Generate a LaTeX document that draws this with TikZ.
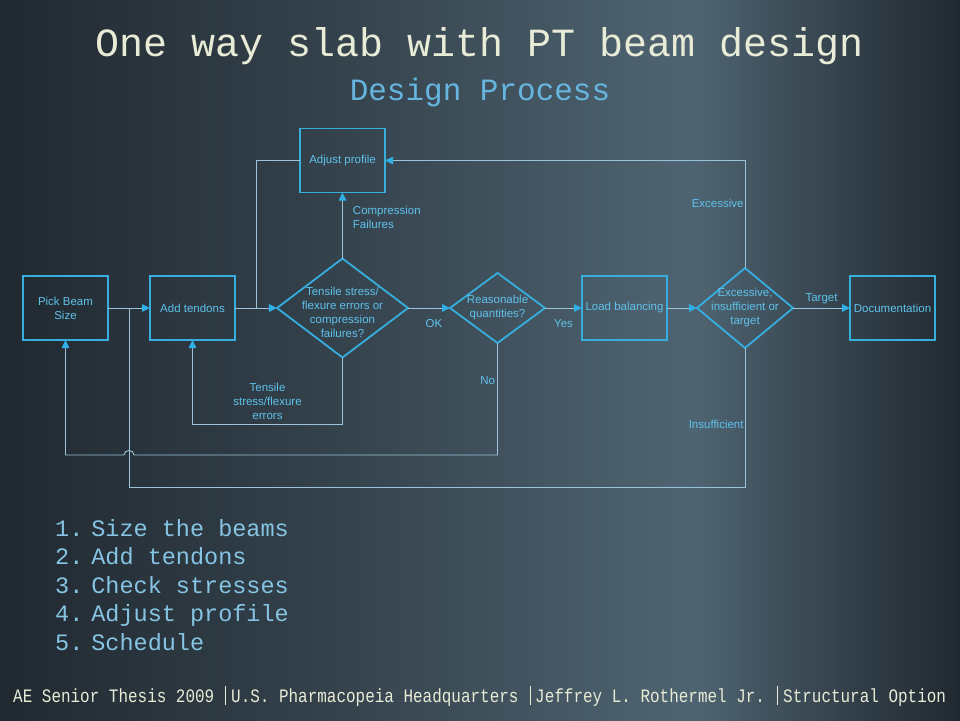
\documentclass[tikz,border=0pt]{standalone}
\usepackage{fontspec}
\setmainfont{Liberation Sans}
\newfontfamily\slidemono{Liberation Mono}
\newfontfamily\slidefoot[FakeStretch=0.84]{Liberation Mono}
\usetikzlibrary{positioning, arrows.meta, shapes.geometric, calc}

\definecolor{bgdark}{HTML}{212930}
\definecolor{bgmid}{HTML}{35434D}
\definecolor{bglight}{HTML}{4F6472}
\definecolor{edgec}{HTML}{36AEDE}
\definecolor{inkc}{HTML}{5FC2EC}
\definecolor{wirec}{HTML}{9CC3D8}
\definecolor{tipc}{HTML}{2FB0E6}
\definecolor{titlec}{HTML}{E8ECD6}
\definecolor{subc}{HTML}{66B6E0}
\definecolor{listc}{HTML}{86C4E4}

% the picture box is mapped onto 25bp--75bp of the shading
\pgfdeclarehorizontalshading{slide}{100bp}{color(0bp)=(bgdark); color(25bp)=(bgdark);
  color(43bp)=(bgmid); color(61bp)=(bglight); color(68.5bp)=(bgmid);
  color(75bp)=(bgdark); color(100bp)=(bgdark)}

\newcommand\chartfont{\fontsize{11.5}{14}\selectfont}
\newcommand\headfont{\slidemono\fontsize{40}{45}\selectfont}
\newcommand\subheadfont{\slidemono\fontsize{31}{35}\selectfont}
\newcommand\stepsfont{\slidemono\fontsize{23.5}{28.5}\selectfont}
\newcommand\footerfont{\slidefoot\fontsize{19}{22}\selectfont}

\begin{document}
\begin{tikzpicture}[x=1pt, y=-1pt, >={Triangle[length=8pt, width=7.5pt, color=tipc]},
  node distance=42pt,
  box/.style={draw=edgec, line width=1.8pt, minimum width=85pt, minimum height=64pt,
    inner sep=2pt, outer sep=0pt, align=center, text=inkc, font=\chartfont},
  dec/.style={diamond, draw=edgec, line width=1.8pt, inner sep=0pt, outer sep=0pt},
  wire/.style={draw=wirec, line width=0.9pt},
  tag/.style={text=inkc, font=\chartfont, align=center, inner sep=1pt},
  foot/.style={text=titlec, font=\footerfont, inner sep=0pt, anchor=base west}]

% background
\shade[shading=slide] (0,0) rectangle (960,720);

% headings
\node[anchor=base, text=titlec, font=\headfont] (title) at (480,56) {One way slab with PT beam design};
\node[anchor=base, text=subc, font=\subheadfont] (sub) at (480,100) {Design Process};

% process
\node[box] (pick) at (65.5,308) {Pick Beam\\Size};
\node[box, right=of pick] (add) {Add tendons};
\node[dec, minimum width=131pt, minimum height=99pt, right=of add,
  label={[tag, yshift=-4pt]center:Tensile stress/\\flexure errors or\\compression\\failures?}] (chk) {};
\node[dec, minimum width=95pt, minimum height=70pt, right=of chk,
  label={[tag]center:Reasonable\\quantities?}] (reas) {};
\node[box, right=37pt of reas] (load) {Load balancing};
\node[dec, minimum width=96pt, minimum height=80pt, right=30pt of load,
  label={[tag]center:Excessive,\\insufficient or\\target}] (ver) {};
\node[box, right=57pt of ver] (doc) {Documentation};
\node[box, above=66pt of chk] (adj) {Adjust profile};

\coordinate (jn) at ($(pick.east)!.5!(add.west)$);
\coordinate (jt) at ($(add.east)!.5!(chk.west)$);
\coordinate (tensY) at (0,424);
\coordinate (noY) at (0,455);
\coordinate (insY) at (0,487);

\draw[wire] (pick) -- (jn);
\draw[wire,->] (jn) -- (add);
\draw[wire] (add) -- (jt);
\draw[wire,->] (jt) -- (chk);
\draw[wire,->] (chk) -- node[tag, below=10pt, pos=.62] (ok) {OK} (reas);
\draw[wire,->] (reas) -- node[tag, below=10pt] (yes) {Yes} (load);
\draw[wire,->] (load) -- (ver);
\draw[wire,->] (ver) -- node[tag, above=3pt] (tgt) {Target} (doc);
\draw[wire,->] (chk) -- node[tag, right=9pt, pos=.62, align=left] (comp) {Compression\\Failures} (adj);
\draw[wire] (adj.west) -| (jt);
\draw[wire,->] (ver.north) |- node[tag, pos=.3, anchor=east] (exc) {Excessive} (adj.east);

% loops back
\draw[wire,->] (chk.south) -- (chk.south |- tensY)
  -- node[tag, above=3pt] (tens) {Tensile\\stress/flexure\\errors} (add.south |- tensY) -- (add.south);
\draw[wire,->] (reas.south) -- node[tag, left=1pt, pos=.34] (no) {No} (reas.south |- noY)
  -- ($(jn |- noY)+(5,0)$) .. controls +(0,-6) and +(0,-6) .. ($(jn |- noY)+(-5,0)$)
  -- (pick.south |- noY) -- (pick.south);
\draw[wire] (ver.south) -- node[tag, pos=.55, anchor=east] (ins) {Insufficient} (ver.south |- insY)
  -- (jn |- insY) -- (jn);

% steps
\node[anchor=north west, text=listc, font=\stepsfont, inner sep=0pt] (steps) at (55,516) {%
  \begin{tabular}{@{}l@{\hspace{8pt}}l@{}}
    1.&Size the beams\\
    2.&Add tendons\\
    3.&Check stresses\\
    4.&Adjust profile\\
    5.&Schedule
  \end{tabular}};

% footer
\node[foot] (ae) at (13,702) {AE Senior Thesis 2009};
\node[foot] (usp) at (231,702) {U.S. Pharmacopeia Headquarters};
\node[foot] (jlr) at (535,702) {Jeffrey L. Rothermel Jr.};
\node[foot] (opt) at (783,702) {Structural Option};
\draw[titlec, line width=.8pt] (225,686) -- (225,705);
\draw[titlec, line width=.8pt] (530,686) -- (530,705);
\draw[titlec, line width=.8pt] (777,686) -- (777,705);
\end{tikzpicture}
\end{document}
